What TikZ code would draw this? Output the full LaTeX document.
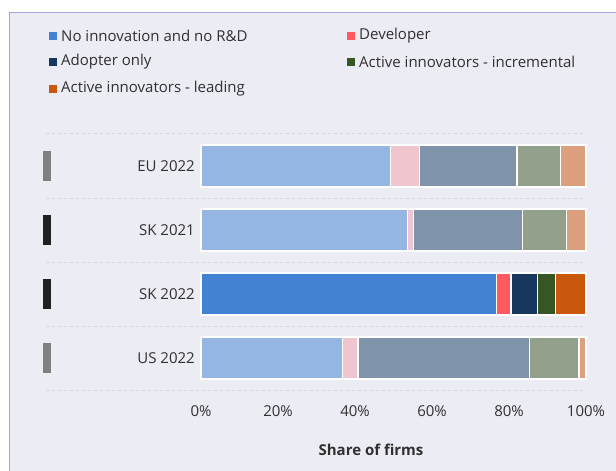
\documentclass[tikz,border=0pt]{standalone}
\usepackage{fontspec}
\setmainfont{Open Sans}
\usepackage{tikz}
\usetikzlibrary{positioning}

\definecolor{framefill}{HTML}{ECECF4}
\definecolor{frameline}{HTML}{A6A6DA}
\definecolor{gridgray}{HTML}{D6D6DE}
\definecolor{txtgray}{HTML}{303030}
% full colours (SK 2022)
\definecolor{noinnov}{HTML}{4282D3}
\definecolor{devel}{HTML}{FF5A5F}
\definecolor{adopter}{HTML}{17375E}
\definecolor{increm}{HTML}{375623}
\definecolor{leading}{HTML}{C9570C}
% faded colours (other rows)
\definecolor{noinnovF}{HTML}{95B6E2}
\definecolor{develF}{HTML}{EFC6CD}
\definecolor{adopterF}{HTML}{7F93AB}
\definecolor{incremF}{HTML}{93A08C}
\definecolor{leadingF}{HTML}{DDA07E}

% one stacked bar: #1 top, #2 colour suffix, #3-#6 cumulative shares
\newcommand{\stackbar}[6]{%
  \draw[segment, fill=noinnov#2]  (201,#1) rectangle ({201+3.85*#3},#1+42);
  \draw[segment, fill=devel#2]    ({201+3.85*#3},#1) rectangle ({201+3.85*#4},#1+42);
  \draw[segment, fill=adopter#2]  ({201+3.85*#4},#1) rectangle ({201+3.85*#5},#1+42);
  \draw[segment, fill=increm#2]   ({201+3.85*#5},#1) rectangle ({201+3.85*#6},#1+42);
  \draw[segment, fill=leading#2]  ({201+3.85*#6},#1) rectangle (586,#1+42);
}

\begin{document}
\begin{tikzpicture}[x=1pt, y=-1pt,
    every node/.style={text=txtgray, font=\fontsize{15}{17}\selectfont},
    segment/.style={draw=white, line width=1.2pt},
    legkey/.style={minimum size=8pt, inner sep=0pt},
    rowlabel/.style={anchor=east, inner sep=0pt},
    marker/.style={minimum width=8pt, minimum height=30pt, inner sep=0pt},
    tick/.style={anchor=center}]
    \useasboundingbox (0,0) rectangle (616,471);
    \fill[white] (0,0) rectangle (616,471);
    \draw[frameline, fill=framefill, line width=1pt] (620,12) -- (9,12) -- (9,475) -- (620,475) -- cycle;

    % legend
    \node[legkey, fill=noinnov] (k1) at (53,36) {};
    \node[anchor=west, inner sep=0pt] (l1) at (61,36) {No innovation and no R\&D};
    \node[legkey, fill=devel] (k2) at (351,36) {};
    \node[anchor=west, inner sep=0pt] (l2) at (359,36) {Developer};
    \node[legkey, fill=adopter] (k3) at (53,62) {};
    \node[anchor=west, inner sep=0pt] (l3) at (61,62) {Adopter only};
    \node[legkey, fill=increm] (k4) at (351,62) {};
    \node[anchor=west, inner sep=0pt] (l4) at (359,62) {Active innovators - incremental};
    \node[legkey, fill=leading] (k5) at (53,89) {};
    \node[anchor=west, inner sep=0pt] (l5) at (61,89) {Active innovators - leading};

    % grid
    \foreach \gy in {133,198,262,326,390}
        \draw[gridgray, dashed, line width=0.6pt] (46,\gy) -- (587,\gy);

    % bars
    \stackbar{145}{F}{49.3}{56.7}{82.1}{93.4}
    \stackbar{209}{F}{53.6}{55.2}{83.5}{95.0}
    \stackbar{273}{}{76.8}{80.5}{87.4}{92.1}
    \stackbar{337}{F}{36.8}{40.8}{85.3}{98.2}

    % row labels and markers
    \node[rowlabel] (eu22) at (195,166) {EU 2022};
    \node[rowlabel] (sk21) at (195,230) {SK 2021};
    \node[rowlabel] (sk22) at (195,294) {SK 2022};
    \node[rowlabel] (us22) at (195,358) {US 2022};
    \node[marker, fill=gray] (m1) at (47,166) {};
    \node[marker, fill=black!87] (m2) at (47,230) {};
    \node[marker, fill=black!87] (m3) at (47,294) {};
    \node[marker, fill=gray] (m4) at (47,358) {};

    % axis
    \foreach \p [count=\i] in {0,20,40,60,80,100}
        \node[tick] (t\i) at ({201+3.85*\p},411) {\p\%};
    \node[font=\fontsize{15}{17}\selectfont\bfseries] (xtitle) at (371,450) {Share of firms};
\end{tikzpicture}
\end{document}
